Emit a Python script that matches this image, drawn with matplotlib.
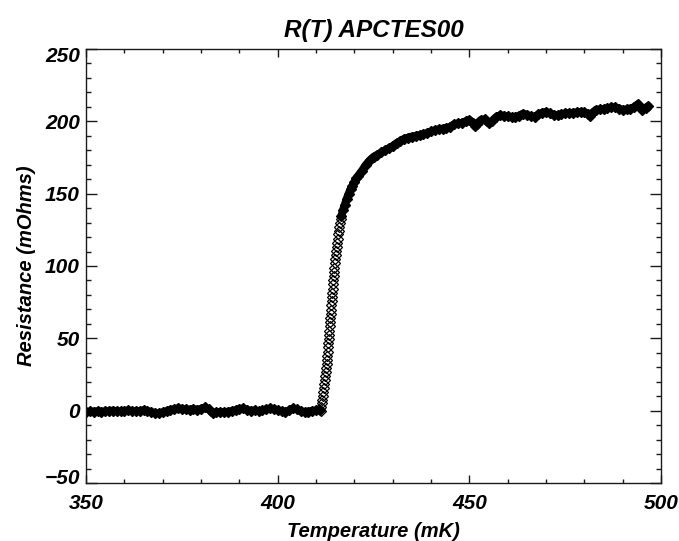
import matplotlib
matplotlib.use('Agg')
import matplotlib.pyplot as plt
from matplotlib.ticker import MultipleLocator
from matplotlib.transforms import ScaledTranslation

# --- data (temperature in mK, resistance in mOhms) ---
# superconducting part below the transition
temp_low = [350, 351, 352, 353, 354, 355, 356, 357, 358, 359, 360, 361, 362, 363,
            364, 365, 366, 367, 368, 369, 370, 371, 372, 373, 374, 375, 376, 377,
            378, 379, 380, 381, 382, 383, 384, 385, 386, 387, 388, 389, 390, 391,
            392, 393, 394, 395, 396, 397, 398, 399, 400, 401, 402, 403, 404, 405,
            406, 407, 408, 409, 410, 411]
res_low = [-0.8, -0.5, -0.6, -0.3, -0.7, -0.4, -0.2, 0.1, -0.3, -0.5, -0.2, 0.2,
           -0.1, -0.4, -0.2, 0.3, -0.1, -0.9, -1.6, -1.8, -1.0, -0.2, 0.6, 1.2,
           1.6, 1.4, 0.9, 0.8, 1.1, 0.7, 1.3, 2.2, 1.0, -1.8, -1.2, -0.9, -1.1,
           -0.6, -0.2, 0.4, 1.3, 1.5, 0.6, 0.0, 0.2, -0.3, 0.2, 1.0, 1.5, 1.2,
           0.3, -0.5, -0.8, 0.2, 1.5, 1.0, -0.3, -0.9, -0.6, 0.0, 0.2, 0.3]

# steep superconducting transition
temp_trans = [411.30, 411.42, 411.55, 411.68, 411.80, 411.92, 412.03, 412.14,
              412.25, 412.38, 412.50, 412.62, 412.74, 412.85, 412.96, 413.06,
              413.16, 413.25, 413.33, 413.41, 413.49, 413.57, 413.65, 413.72,
              413.80, 413.89, 413.98, 414.07, 414.16, 414.25, 414.34, 414.42,
              414.50, 414.60, 414.70, 414.81, 414.92, 415.03, 415.15, 415.27,
              415.39, 415.53, 415.67, 415.82, 415.97, 416.12, 416.28, 416.45]
res_trans = [0.0, 2.5, 5.0, 7.6, 10.2, 12.8, 15.5, 18.2, 20.9, 23.7, 26.5, 29.3,
             32.1, 35.0, 37.9, 40.8, 43.7, 46.6, 49.5, 52.4, 55.3, 58.2, 61.1,
             64.0, 67.0, 69.9, 72.8, 75.7, 78.6, 81.5, 84.4, 87.3, 90.2, 93.1,
             96.0, 98.9, 101.8, 104.7, 107.6, 110.5, 113.4, 116.2, 119.0, 121.8,
             124.5, 127.2, 129.8, 132.3]

# normal branch above the transition
temp_high = [416.6, 417.0, 417.5, 418.0, 418.5, 419.0, 419.5, 420.0, 420.5, 421,
             422, 423, 424, 425, 426, 427, 428, 429, 430, 431, 432, 433, 434, 435,
             436, 437, 438, 439, 440, 441, 442, 443, 444, 445, 446, 447, 448, 449,
             450, 451, 451.5, 452, 453, 454, 455, 456, 457, 458, 459, 460, 461,
             462, 463, 464, 465, 466, 467, 468, 469, 470, 471, 472, 473, 474, 475,
             476, 477, 478, 479, 480, 481, 481.5, 482, 483, 484, 485, 486, 487,
             488, 489, 490, 491, 492, 493, 494, 495, 496, 496.7]
res_high = [134.5, 138.5, 142.5, 146.5, 150.0, 153.0, 155.5, 158.0, 160.5, 162.5,
            166.0, 170.0, 173.0, 175.5, 177.0, 178.5, 180.0, 181.5, 183.0, 185.0,
            186.5, 188.0, 188.8, 189.5, 190.0, 190.6, 191.2, 192.0, 193.0, 193.8,
            194.5, 195.0, 195.6, 196.3, 198.0, 198.6, 199.0, 200.0, 201.0, 199.0,
            196.5, 198.5, 201.0, 201.4, 198.6, 200.5, 203.0, 204.2, 204.0, 203.5,
            203.0, 203.2, 204.0, 205.4, 204.5, 203.5, 203.2, 204.8, 206.0, 206.6,
            205.5, 204.4, 204.4, 205.0, 205.5, 205.8, 206.0, 206.2, 206.6, 206.4,
            205.0, 203.7, 205.5, 208.0, 208.2, 208.5, 209.0, 209.7, 209.8, 208.8,
            208.0, 208.2, 208.5, 210.0, 212.0, 208.0, 209.5, 210.6]

x_ticks = [350, 400, 450, 500]
y_ticks = [-50, 0, 50, 100, 150, 200, 250]

plt.rcParams['font.family'] = ['Liberation Sans', 'DejaVu Sans']
plt.rcParams['font.weight'] = 'bold'
plt.rcParams['font.style'] = 'italic'

fig = plt.figure(figsize=(6.79, 5.41), dpi=100)
ax = fig.add_axes([86 / 679, 58 / 541, 575 / 679, 434 / 541])

dark = '#1a1a1a'
# filled diamonds where the points are packed tightly, open ones on the steep part
for tx, rx in [(temp_low, res_low), (temp_high, res_high)]:
    ax.plot(tx, rx, color='black', lw=5.6, solid_capstyle='round',
            solid_joinstyle='round')
    ax.plot(tx, rx, ls='none', marker='D', ms=5.6, mfc='black', mec='black', mew=1.0)
ax.plot(temp_trans, res_trans, ls='none', marker='D', ms=4.8, mfc='none',
        mec='black', mew=0.9)

ax.set_xlim(350, 500)
ax.set_ylim(-50, 250)
ax.set_xticks(x_ticks)
ax.set_yticks(y_ticks)
ax.xaxis.set_minor_locator(MultipleLocator(10))
ax.yaxis.set_minor_locator(MultipleLocator(10))

for s in ax.spines.values():
    s.set_linewidth(1.0)
    s.set_color(dark)

ax.tick_params(axis='both', which='both', direction='in', top=True, right=True,
               color=dark, width=1.0, labelsize=15)
ax.tick_params(axis='x', which='major', length=6.0, pad=8)
ax.tick_params(axis='x', which='minor', length=3.0)
ax.tick_params(axis='y', which='major', length=7.8, pad=4.5)
ax.tick_params(axis='y', which='minor', length=3.9)

# IDL keeps the end labels of the y axis inside the plot range
ticks = ax.yaxis.get_major_ticks()
top_lab = ticks[-1].label1
bot_lab = ticks[0].label1
top_lab.set_transform(top_lab.get_transform() + ScaledTranslation(0, -4.0 / 72, fig.dpi_scale_trans))
bot_lab.set_transform(bot_lab.get_transform() + ScaledTranslation(0, 4.5 / 72, fig.dpi_scale_trans))

lab_font = dict(fontsize=14.5, fontweight='bold', fontstyle='italic')
ax.set_xlabel('Temperature (mK)', **lab_font)
ax.set_ylabel('Resistance (mOhms)', **lab_font)
ax.xaxis.set_label_coords(0.5, -0.089)
ax.yaxis.set_label_coords(-0.087, 0.5)

ax.set_title('R(T) APCTES00', fontsize=17.5, fontweight='bold', fontstyle='italic', pad=8.4)

fig.savefig('out.png', dpi=100)
